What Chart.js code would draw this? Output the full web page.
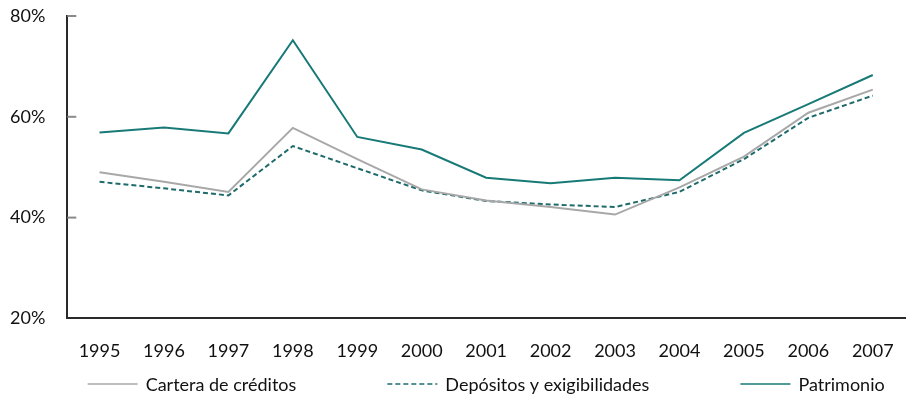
<!DOCTYPE html>
<html>
<head>
<meta charset="utf-8">
<script src="https://cdn.jsdelivr.net/npm/chart.js@4.4.1/dist/chart.umd.min.js"></script>
<style>
  html, body { margin: 0; padding: 0; background: #ffffff; }
  #wrap { width: 908px; height: 399px; position: relative; }
</style>
</head>
<body>
<div id="wrap"><canvas id="chart"></canvas></div>
<script>
const years = ['1995','1996','1997','1998','1999','2000','2001','2002','2003','2004','2005','2006','2007'];
const carteraCreditos = [49.0, 47.1, 45.1, 57.8, 51.6, 45.6, 43.4, 42.1, 40.6, 46.0, 52.1, 60.8, 65.4];
const depositosExigibilidades = [47.1, 45.8, 44.4, 54.2, 49.8, 45.4, 43.3, 42.6, 42.1, 45.1, 51.6, 59.8, 64.2];
const patrimonio = [56.9, 57.9, 56.7, 75.2, 56.0, 53.5, 47.9, 46.8, 47.9, 47.4, 56.8, 62.5, 68.3];
const yTicks = [20, 40, 60, 80];

const FONT = 'Lato, "Open Sans", sans-serif';
const FONT_SIZE = 18;

// Short tick marks drawn inside the plot along the y axis
const innerTicks = {
  id: 'innerTicks',
  afterDraw(chart) {
    const { ctx, chartArea, scales } = chart;
    ctx.save();
    ctx.strokeStyle = '#8a8a8a';
    ctx.lineWidth = 2;
    yTicks.forEach(v => {
      if (v === yTicks[0]) return;
      const y = scales.y.getPixelForValue(v);
      ctx.beginPath();
      ctx.moveTo(chartArea.left, y);
      ctx.lineTo(chartArea.left + 9, y);
      ctx.stroke();
    });
    ctx.restore();
  }
};

// Legend row under the axis: line sample followed by its label, centred on the plot
const lineLegend = {
  id: 'lineLegend',
  afterDraw(chart) {
    const { ctx, chartArea } = chart;
    const sample = 50, gapText = 8, gapItem = 91;
    const y = chart.height - 15;
    ctx.save();
    ctx.font = FONT_SIZE + 'px ' + FONT;
    ctx.textBaseline = 'middle';
    ctx.fillStyle = '#111111';
    const items = chart.data.datasets.map(ds => ({
      ds, w: sample + gapText + ctx.measureText(ds.label).width
    }));
    const total = items.reduce((s, it) => s + it.w, 0) + gapItem * (items.length - 1);
    let x = (chartArea.left + chartArea.right) / 2 - total / 2;
    items.forEach(({ ds, w }) => {
      ctx.beginPath();
      ctx.setLineDash(ds.borderDash || []);
      ctx.strokeStyle = ds.borderColor;
      ctx.lineWidth = 1.5;
      ctx.moveTo(x, y);
      ctx.lineTo(x + sample, y);
      ctx.stroke();
      ctx.setLineDash([]);
      ctx.fillText(ds.label, x + sample + gapText, y + 1);
      x += w + gapItem;
    });
    ctx.restore();
  }
};

new Chart(document.getElementById('chart'), {
  type: 'line',
  data: {
    labels: years,
    datasets: [
      {
        label: 'Cartera de créditos',
        data: carteraCreditos,
        borderColor: '#a8a8a8',
        borderWidth: 2,
        pointRadius: 0,
        tension: 0
      },
      {
        label: 'Depósitos y exigibilidades',
        data: depositosExigibilidades,
        borderColor: '#1f6b6b',
        borderWidth: 2,
        borderDash: [5, 3],
        pointRadius: 0,
        tension: 0
      },
      {
        label: 'Patrimonio',
        data: patrimonio,
        borderColor: '#187a77',
        borderWidth: 2,
        pointRadius: 0,
        tension: 0
      }
    ]
  },
  options: {
    responsive: true,
    maintainAspectRatio: false,
    animation: false,
    layout: { padding: { top: 16, right: 3, left: -12, bottom: 15 } },
    plugins: {
      tooltip: { enabled: false },
      legend: { display: false }
    },
    scales: {
      x: {
        offset: true,
        grid: { display: false, drawTicks: false },
        border: { display: true, color: '#2a2a2a', width: 2 },
        ticks: { color: '#111111', padding: 22, font: { family: FONT, size: FONT_SIZE } },
        afterFit(scale) { scale.paddingLeft = 0; scale.paddingRight = 0; }
      },
      y: {
        min: 20,
        max: 80,
        afterBuildTicks(scale) { scale.ticks = yTicks.map(v => ({ value: v })); },
        afterFit(scale) { scale.paddingTop = 0; },
        grid: { display: false, drawTicks: false },
        border: { display: true, color: '#2a2a2a', width: 2 },
        ticks: {
          color: '#111111',
          padding: 22,
          font: { family: FONT, size: FONT_SIZE },
          callback: v => v + '%'
        }
      }
    }
  },
  plugins: [innerTicks, lineLegend]
});
</script>
</body>
</html>
